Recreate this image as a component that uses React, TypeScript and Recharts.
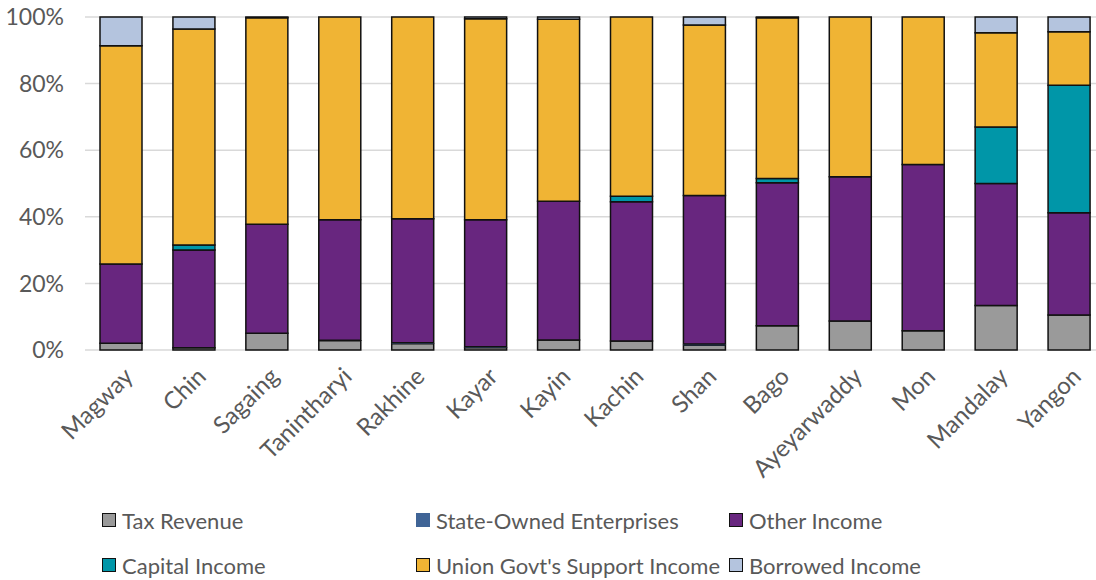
import React from 'react';
import { Bar, BarChart, CartesianGrid, Legend, XAxis, YAxis } from 'recharts';

const regions = [
  'Magway', 'Chin', 'Sagaing', 'Tanintharyi', 'Rakhine', 'Kayar', 'Kayin',
  'Kachin', 'Shan', 'Bago', 'Ayeyarwaddy', 'Mon', 'Mandalay', 'Yangon',
];

// shares of total income, %
const taxRevenue = [2.0, 0.7, 5.0, 2.8, 1.9, 0.7, 3.0, 2.7, 1.4, 7.3, 8.7, 5.8, 13.4, 10.5];
const stateOwned = [0, 0, 0, 0.1, 0.3, 0.3, 0, 0, 0.4, 0, 0, 0, 0, 0];
const otherIncome = [23.8, 29.3, 32.8, 36.2, 37.2, 38.1, 41.7, 41.8, 44.6, 42.9, 43.3, 49.9, 36.6, 30.7];
const capitalIncome = [0, 1.5, 0, 0, 0, 0, 0, 1.7, 0, 1.3, 0, 0, 17.0, 38.3];
const unionSupport = [65.6, 64.9, 62.0, 60.9, 60.6, 60.4, 54.6, 53.8, 51.2, 48.3, 48.0, 44.3, 28.3, 16.1];
const borrowed = [8.6, 3.6, 0.2, 0, 0, 0.5, 0.7, 0, 2.4, 0.2, 0, 0, 4.7, 4.4];

const yTicks = [0, 0.2, 0.4, 0.6, 0.8, 1];

const series = [
  { key: 'tax', name: 'Tax Revenue', color: '#9a9a9a', values: taxRevenue, outline: true },
  { key: 'soe', name: 'State-Owned Enterprises', color: '#3f6496', values: stateOwned, outline: false },
  { key: 'other', name: 'Other Income', color: '#68267f', values: otherIncome, outline: true },
  { key: 'capital', name: 'Capital Income', color: '#0096a8', values: capitalIncome, outline: true },
  { key: 'union', name: "Union Govt's Support Income", color: '#f0b434', values: unionSupport, outline: true },
  { key: 'borrowed', name: 'Borrowed Income', color: '#b4c4de', values: borrowed, outline: true },
];

const data = regions.map((region, i) => {
  const row: Record<string, string | number> = { region };
  series.forEach((s) => {
    row[s.key] = s.values[i];
  });
  return row;
});

const FONT = 'Lato, "Open Sans", sans-serif';
const TEXT = '#595959';

function RegionTick({ x, y, payload }: any) {
  const ax = x + 13;
  const ay = y + 20;
  return (
    <text
      x={ax}
      y={ay}
      transform={`rotate(-45, ${ax}, ${ay})`}
      textAnchor="end"
      fontSize={24}
      fontFamily={FONT}
      fill={TEXT}
    >
      {payload.value}
    </text>
  );
}

function IncomeLegend() {
  const cols = [102, 416, 729];
  const rows = [40, 85];
  return (
    <div style={{ position: 'relative', height: 100, width: 1096 }}>
      {series.map((s, i) => (
        <div
          key={s.key}
          style={{
            position: 'absolute',
            left: cols[i % 3],
            top: rows[Math.floor(i / 3)] - 14,
            display: 'flex',
            alignItems: 'center',
            height: 28,
            fontFamily: FONT,
            fontSize: 22,
            color: TEXT,
            whiteSpace: 'nowrap',
          }}
        >
          <span
            style={{
              display: 'inline-block',
              width: s.outline ? 12 : 14,
              height: s.outline ? 12 : 14,
              background: s.color,
              border: s.outline ? '1.5px solid #111' : 'none',
              marginRight: 6,
            }}
          />
          {s.name}
        </div>
      ))}
    </div>
  );
}

export default function App() {
  return (
    <div style={{ position: 'fixed', left: 0, top: 0, width: 1096, height: 580, overflow: 'hidden', background: '#fff' }}>
      <BarChart
        width={1110}
        height={580}
        data={data}
        stackOffset="expand"
        margin={{ top: 17, right: 4, bottom: 0, left: 0 }}
      >
        <CartesianGrid vertical={false} stroke="#d9d9d9" strokeWidth={1.5} />
        <XAxis
          dataKey="region"
          height={130}
          tickLine={false}
          axisLine={false}
          interval={0}
          tick={<RegionTick />}
        />
        <YAxis
          width={85}
          domain={[0, 1]}
          ticks={yTicks}
          tickFormatter={(v: number) => `${Math.round(v * 100)}%`}
          tickLine={false}
          axisLine={false}
          tickMargin={15}
          tick={{ fontSize: 23, fontFamily: FONT, fill: TEXT }}
        />
        <Legend verticalAlign="bottom" wrapperStyle={{ left: 0 }} content={<IncomeLegend />} />
        {series.map((s) => (
          <Bar
            key={s.key}
            dataKey={s.key}
            name={s.name}
            stackId="income"
            fill={s.color}
            stroke={s.outline ? '#111' : 'none'}
            strokeWidth={1.5}
            barSize={42}
            isAnimationActive={false}
          />
        ))}
      </BarChart>
    </div>
  );
}
